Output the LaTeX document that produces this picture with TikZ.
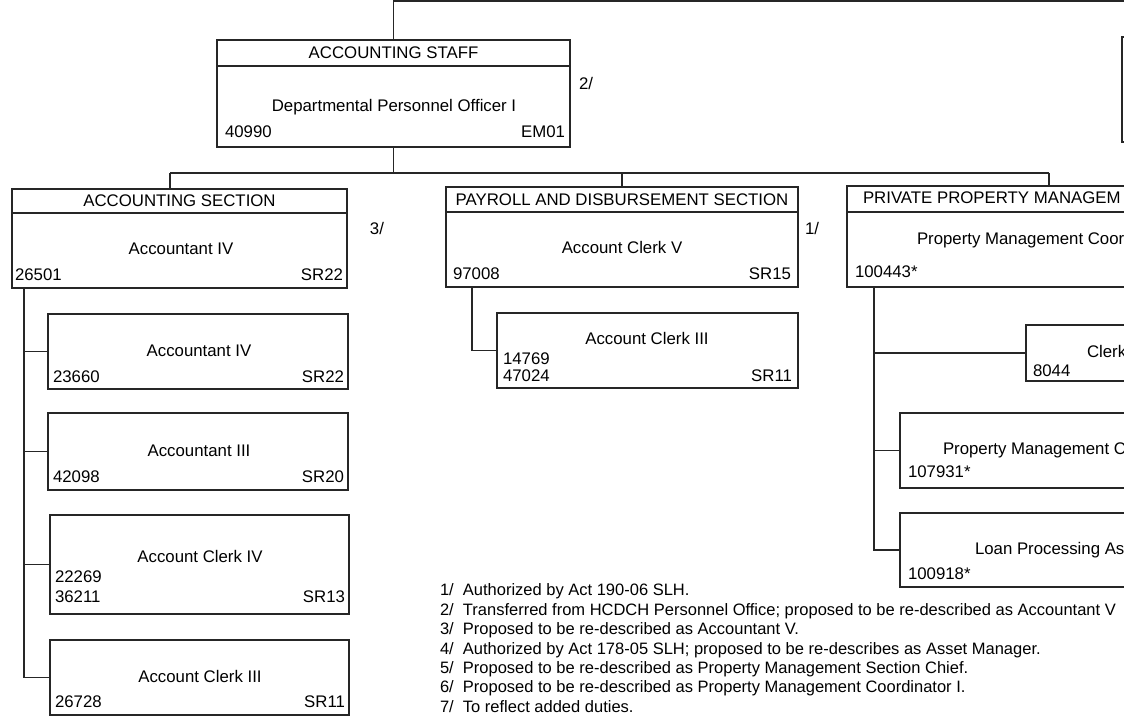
\documentclass[tikz,border=0pt]{standalone}
\usepackage{fontspec}
\setmainfont{Liberation Sans}
\usetikzlibrary{positioning}

\begin{document}
\begin{tikzpicture}[x=1pt, y=-1pt,
    every node/.style={font=\fontsize{16.8}{19.4}\selectfont, inner sep=0pt, outer sep=0pt},
    hdrbox/.style={draw=black!85, line width=1.1pt, anchor=north west, minimum height=25},
    posbox/.style={draw=black!85, line width=1.1pt, anchor=north west},
    lbl/.style={text height=12pt, text depth=3.5pt},
    conn/.style={draw=black!85, line width=1.1pt}]
            \fill[white] (0,0) rectangle (1124,719);
            \useasboundingbox (0,0) rectangle (1124,719);
            \coordinate (topright) at (1124,1);
            \coordinate (busL) at (170,173);
            \coordinate (busR) at (1049,173);
            \coordinate (acctrunk) at (24,288);
            \coordinate (paytrunk) at (472,287);
            \coordinate (prvtrunk) at (874,287);

            \node[posbox, minimum width=100, minimum height=105] (upper) at (1122,37) {};

            \node[hdrbox, minimum width=353, minimum height=26] (staffhd) at (217,40) {ACCOUNTING STAFF};
            \node[posbox, minimum width=353, minimum height=81, below=0pt of staffhd] (staff) {};
            \node[lbl] (stafftitle) at (394,107) {Departmental Personnel Officer I};
            \node[lbl, anchor=west] (staffno) at (225,133) {40990};
            \node[lbl, anchor=east] (staffsr) at (565,133) {EM01};
            \node[lbl] (fnstaff) at (586,85) {2/};

            \node[hdrbox, minimum width=335, minimum height=24] (acchd) at (12,189) {ACCOUNTING SECTION};
            \node[posbox, minimum width=335, minimum height=75, below=0pt of acchd] (acct) {};
            \node[lbl] (accttitle) at (181,250) {Accountant IV};
            \node[lbl, anchor=west] (acctno) at (15,276) {26501};
            \node[lbl, anchor=east] (acctsr) at (343,276) {SR22};
            \node[lbl] (fnacct) at (377,230) {3/};

            \node[posbox, minimum width=300, minimum height=75] (acc2) at (48,314) {};
            \node[lbl] (acc2title) at (199,352) {Accountant IV};
            \node[lbl, anchor=west] (acc2no) at (53,378) {23660};
            \node[lbl, anchor=east] (acc2sr) at (344,378) {SR22};

            \node[posbox, minimum width=300, minimum height=77] (acc3) at (48,413) {};
            \node[lbl] (acc3title) at (199,452) {Accountant III};
            \node[lbl, anchor=west] (acc3no) at (53,478) {42098};
            \node[lbl, anchor=east] (acc3sr) at (344,478) {SR20};

            \node[posbox, minimum width=299, minimum height=99] (acc4) at (50,515) {};
            \node[lbl] (acc4title) at (200,558) {Account Clerk IV};
            \node[lbl, anchor=west] (acc4no) at (55,578) {22269};
            \node[lbl, anchor=west] (acc4nob) at (55,598) {36211};
            \node[lbl, anchor=east] (acc4sr) at (345,598) {SR13};

            \node[posbox, minimum width=299, minimum height=75] (acc5) at (50,640) {};
            \node[lbl] (acc5title) at (200,678) {Account Clerk III};
            \node[lbl, anchor=west] (acc5no) at (55,703) {26728};
            \node[lbl, anchor=east] (acc5sr) at (345,703) {SR11};

            \node[hdrbox, minimum width=352, minimum height=25] (payhd) at (446,187) {PAYROLL AND DISBURSEMENT SECTION};
            \node[posbox, minimum width=352, minimum height=75, below=0pt of payhd] (pay) {};
            \node[lbl] (paytitle) at (622,249) {Account Clerk V};
            \node[lbl, anchor=west] (payno) at (453,275) {97008};
            \node[lbl, anchor=east] (paysr) at (791,275) {SR15};
            \node[lbl] (fnpay) at (812,230) {1/};

            \node[posbox, minimum width=301, minimum height=75] (payclk) at (497,313) {};
            \node[lbl] (payclktitle) at (647,340) {Account Clerk III};
            \node[lbl, anchor=west] (payclkno) at (503,360) {14769};
            \node[lbl, anchor=west] (payclknob) at (503,377) {47024};
            \node[lbl, anchor=east] (payclksr) at (792,377) {SR11};

            \node[hdrbox, minimum width=400, minimum height=26] (prvhd) at (847,186) {};
            \node[lbl, anchor=west] (prvhdtext) at (863,199) {PRIVATE PROPERTY MANAGEM};
            \node[posbox, minimum width=400, minimum height=75, below=0pt of prvhd] (prv) {};
            \node[lbl, anchor=west] (prvtitle) at (917,240) {Property Management Coor};
            \node[lbl, anchor=west] (prvno) at (855,273) {100443*};

            \node[posbox, minimum width=200, minimum height=56] (prvclk) at (1026,325) {};
            \node[lbl, anchor=west] (prvclktitle) at (1087,353) {Clerk};
            \node[lbl, anchor=west] (prvclkno) at (1033,372) {8044};

            \node[posbox, minimum width=300, minimum height=75] (prvpmc) at (900,413) {};
            \node[lbl, anchor=west] (prvpmctitle) at (943,450) {Property Management C};
            \node[lbl, anchor=west] (prvpmcno) at (908,473) {107931*};

            \node[posbox, minimum width=300, minimum height=74] (prvloan) at (900,513) {};
            \node[lbl, anchor=west] (prvloantitle) at (975,550) {Loan Processing As};
            \node[lbl, anchor=west] (prvloanno) at (908,575) {100918*};

            \draw[conn] (staffhd.north) |- (topright);
            \draw[conn] (staff.south) -- (staff.south |- busL);
            \draw[conn] (busL) -- (busR);
            \draw[conn] (busL) -- (busL |- acchd.north);
            \draw[conn] (payhd.north) -- (payhd.north |- busL);
            \draw[conn] (busR) -- (busR |- prvhd.north);

            \draw[conn] (acctrunk) |- (acc5.west);
            \foreach \k in {2,3,4}
                \draw[conn] (acctrunk |- acc\k.west) -- (acc\k.west);
            \draw[conn] (paytrunk) |- (payclk.west);
            \draw[conn] (prvtrunk) |- (prvloan.west);
            \foreach \k in {clk,pmc}
                \draw[conn] (prvtrunk |- prv\k.west) -- (prv\k.west);

            \node[anchor=north west, align=left, font=\fontsize{16.5}{19.4}\selectfont] (notes) at (440,584)
               {1/~ Authorized by Act 190-06 SLH.\\
                2/~ Transferred from HCDCH Personnel Office; proposed to be re-described as Accountant V\\
                3/~ Proposed to be re-described as Accountant V.\\
                4/~ Authorized by Act 178-05 SLH; proposed to be re-describes as Asset Manager.\\
                5/~ Proposed to be re-described as Property Management Section Chief.\\
                6/~ Proposed to be re-described as Property Management Coordinator I.\\
                7/~ To reflect added duties.};
        \end{tikzpicture}
\end{document}
